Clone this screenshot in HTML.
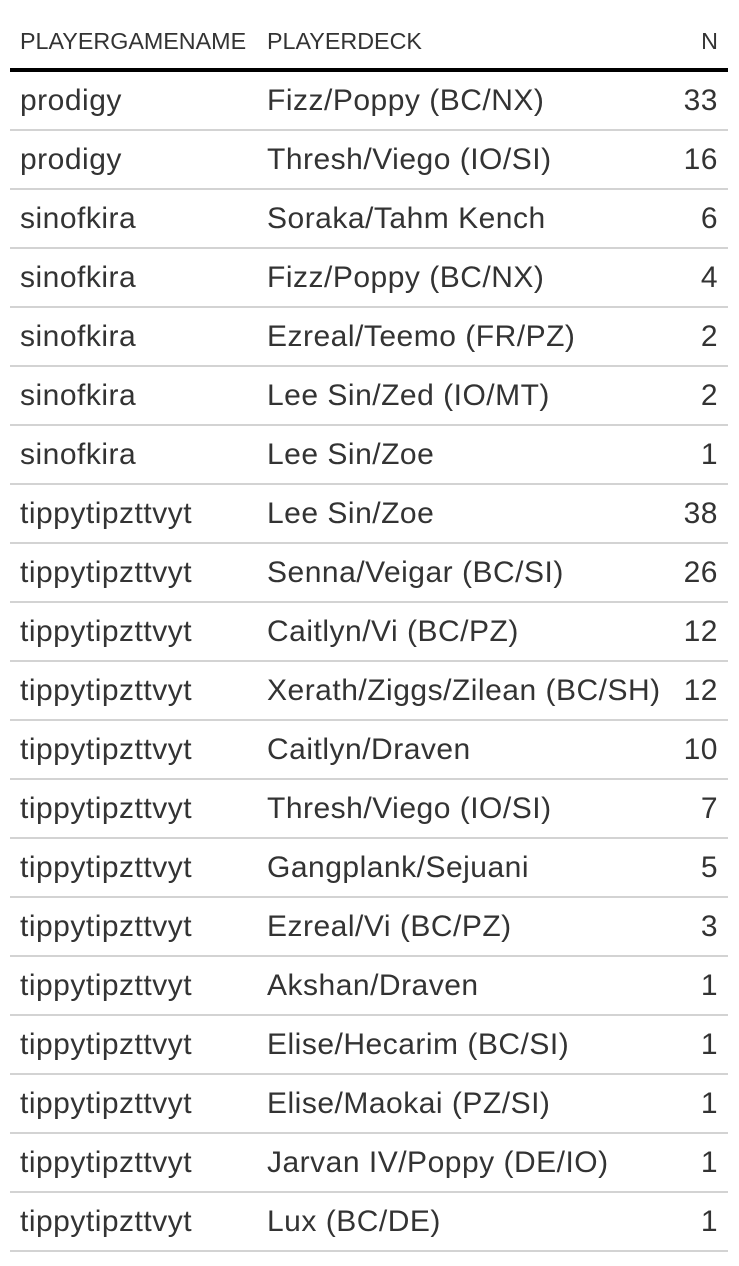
<!DOCTYPE html>
<html><head><meta charset="utf-8"><style>
html,body{margin:0;padding:0;background:#fff;width:739px;height:1266px;overflow:hidden;font-family:"Liberation Sans",sans-serif;color:#333;}
.h{position:absolute;top:24px;font-size:23.3px;color:#333;line-height:34px;}
.hl{position:absolute;left:10px;width:718px;top:68px;height:4px;background:#000;}
.r{position:absolute;left:10px;width:718px;height:59px;border-bottom:2px solid #d3d3d3;box-sizing:border-box;font-size:30px;letter-spacing:0.5px;line-height:57px;}
.r span{position:absolute;top:0;}
.a{left:10px}.b{left:257px}.c{right:10px}
</style></head><body>
<div class="h" style="left:20px">PLAYERGAMENAME</div>
<div class="h" style="left:267px">PLAYERDECK</div>
<div class="h" style="right:21px">N</div>
<div class="hl"></div>
<div class="r" style="top:72px"><span class="a">prodigy</span><span class="b">Fizz/Poppy (BC/NX)</span><span class="c">33</span></div>
<div class="r" style="top:131px"><span class="a">prodigy</span><span class="b">Thresh/Viego (IO/SI)</span><span class="c">16</span></div>
<div class="r" style="top:190px"><span class="a">sinofkira</span><span class="b">Soraka/Tahm Kench</span><span class="c">6</span></div>
<div class="r" style="top:249px"><span class="a">sinofkira</span><span class="b">Fizz/Poppy (BC/NX)</span><span class="c">4</span></div>
<div class="r" style="top:308px"><span class="a">sinofkira</span><span class="b">Ezreal/Teemo (FR/PZ)</span><span class="c">2</span></div>
<div class="r" style="top:367px"><span class="a">sinofkira</span><span class="b">Lee Sin/Zed (IO/MT)</span><span class="c">2</span></div>
<div class="r" style="top:426px"><span class="a">sinofkira</span><span class="b">Lee Sin/Zoe</span><span class="c">1</span></div>
<div class="r" style="top:485px"><span class="a">tippytipzttvyt</span><span class="b">Lee Sin/Zoe</span><span class="c">38</span></div>
<div class="r" style="top:544px"><span class="a">tippytipzttvyt</span><span class="b">Senna/Veigar (BC/SI)</span><span class="c">26</span></div>
<div class="r" style="top:603px"><span class="a">tippytipzttvyt</span><span class="b">Caitlyn/Vi (BC/PZ)</span><span class="c">12</span></div>
<div class="r" style="top:662px"><span class="a">tippytipzttvyt</span><span class="b">Xerath/Ziggs/Zilean (BC/SH)</span><span class="c">12</span></div>
<div class="r" style="top:721px"><span class="a">tippytipzttvyt</span><span class="b">Caitlyn/Draven</span><span class="c">10</span></div>
<div class="r" style="top:780px"><span class="a">tippytipzttvyt</span><span class="b">Thresh/Viego (IO/SI)</span><span class="c">7</span></div>
<div class="r" style="top:839px"><span class="a">tippytipzttvyt</span><span class="b">Gangplank/Sejuani</span><span class="c">5</span></div>
<div class="r" style="top:898px"><span class="a">tippytipzttvyt</span><span class="b">Ezreal/Vi (BC/PZ)</span><span class="c">3</span></div>
<div class="r" style="top:957px"><span class="a">tippytipzttvyt</span><span class="b">Akshan/Draven</span><span class="c">1</span></div>
<div class="r" style="top:1016px"><span class="a">tippytipzttvyt</span><span class="b">Elise/Hecarim (BC/SI)</span><span class="c">1</span></div>
<div class="r" style="top:1075px"><span class="a">tippytipzttvyt</span><span class="b">Elise/Maokai (PZ/SI)</span><span class="c">1</span></div>
<div class="r" style="top:1134px"><span class="a">tippytipzttvyt</span><span class="b">Jarvan IV/Poppy (DE/IO)</span><span class="c">1</span></div>
<div class="r" style="top:1193px"><span class="a">tippytipzttvyt</span><span class="b">Lux (BC/DE)</span><span class="c">1</span></div>
</body></html>
